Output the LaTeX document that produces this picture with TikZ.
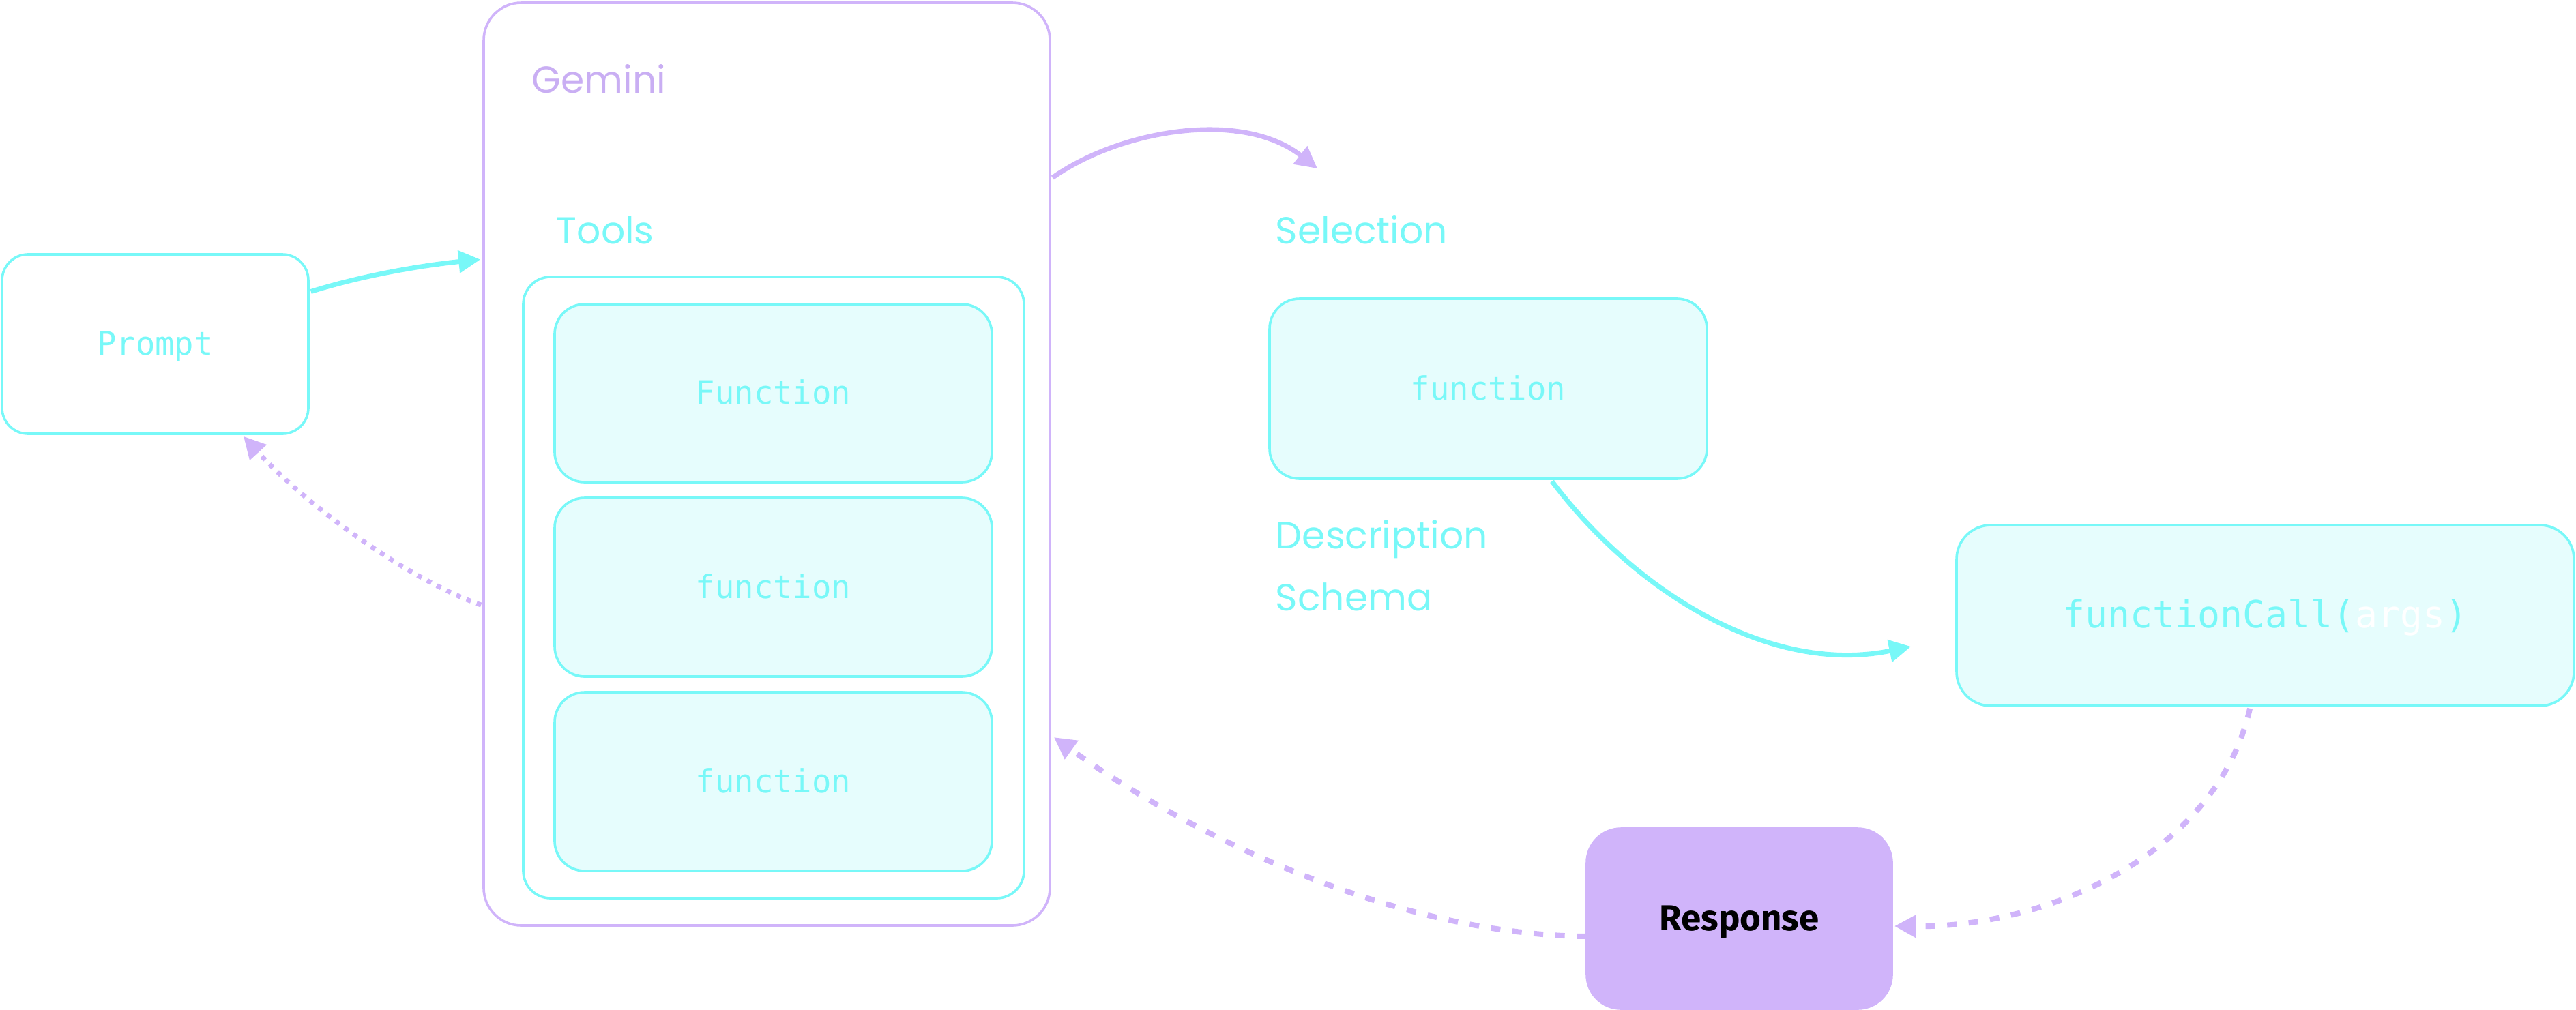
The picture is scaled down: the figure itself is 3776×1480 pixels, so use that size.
\documentclass[tikz,border=0pt]{standalone}
\usepackage{fontspec}
\usetikzlibrary{arrows.meta,calc}
\newfontfamily\popfont{Poppins}
\newfontfamily\monofont{DejaVu Sans Mono}
\newfontfamily\firafont{Fira Sans}
\definecolor{cy}{HTML}{78F8F8}
\definecolor{cyfill}{HTML}{E6FDFD}
\definecolor{pu}{HTML}{D0B4FA}
\definecolor{putext}{HTML}{C9AEF3}
\tikzset{
  cybox/.style={draw=cy, line width=0.9pt, fill=cyfill, rounded corners=11pt, inner sep=0pt,
    font=\monofont\fontsize{11.8}{12}\selectfont, text=cy, text height=8.2pt, text depth=0pt},
  plainbox/.style={draw=cy, line width=0.9pt, fill=white, rounded corners=10pt, inner sep=0pt},
  gembox/.style={draw=pu, line width=0.9pt, fill=white, rounded corners=13.75pt, inner sep=0pt},
  resbox/.style={draw=pu, line width=0.9pt, fill=pu, rounded corners=12.5pt, inner sep=0pt,
    font=\firafont\bfseries\fontsize{13.2}{14}\selectfont, text=black, text height=8.8pt, text depth=0pt},
  lbl/.style={anchor=base west, inner sep=0pt, font=\popfont\fontsize{13.8}{16}\selectfont},
  tipA/.style={-{Triangle[length=8pt,width=8pt]}},
  cyarrow/.style={draw=cy, line width=1.75pt, tipA},
  puarrow/.style={draw=pu, line width=1.75pt, tipA},
  pudashed/.style={draw=pu, line width=2pt, dash pattern=on 3.5pt off 4.4pt, tipA},
  pudotted/.style={draw=pu, line width=1.75pt, dash pattern=on 1.75pt off 2.25pt, tipA},
}
\begin{document}
\begin{tikzpicture}[x=0.25pt,y=-0.25pt]
\useasboundingbox (0,0) rectangle (3776,1480);

% Prompt
\node[cybox, fill=white, rounded corners=9.5pt, minimum width=112.25pt, minimum height=65.75pt, text height=8pt] (prompt) at (227.5,504.5) {Prompt};

% Gemini container
\node[gembox, minimum width=207.5pt, minimum height=338.25pt] (gemini) at (1124,680.5) {};
\node[lbl, text=putext] (gemlbl) at (779,136) {Gemini};
\node[lbl, text=cy] (toolslbl) at (815,357) {Tools};
\node[plainbox, minimum width=183.5pt, minimum height=227.75pt] (tools) at (1134,861.5) {};
\node[cybox, minimum width=160.25pt, minimum height=65.25pt] (f1) at (1133.5,576.5) {Function};
\node[cybox, minimum width=160.25pt, minimum height=65.5pt] (f2) at (1133.5,861) {function};
\node[cybox, minimum width=160.25pt, minimum height=65.5pt] (f3) at (1133.5,1146) {function};

% Selection
\node[lbl, text=cy] (sellbl) at (1869,357) {Selection};
\node[cybox, minimum width=160.25pt, minimum height=66pt] (selfunc) at (2181.5,570) {function};
\node[lbl, text=cy] (desclbl) at (1869,804) {Description};
\node[lbl, text=cy] (schemalbl) at (1869,895) {Schema};
\coordinate (selin) at (1931,247);

% functionCall
\node[cybox, rounded corners=12.5pt, minimum width=226.25pt, minimum height=66.25pt,
  font=\monofont\fontsize{13.7}{14}\selectfont, text height=8.8pt] (fcall) at (3320.5,902.5)
  {functionCall(\textcolor{white}{args})};

% Response
\node[resbox, minimum width=111.75pt, minimum height=66pt] (response) at (2549.5,1347) {Response};

% connectors
\draw[cyarrow] ($(prompt.east)+(2,-77)$) .. controls +(80,-25) and +(-80,8) .. ($(gemini.west)+(-3,-300)$);
\draw[puarrow] ($(gemini.east)+(2,-420)$) .. controls +(99,-70) and +(-111,-87) .. (selin);
\draw[cyarrow] ($(selfunc.south)+(93.5,2)$) .. controls +(125,166) and +(-203,42) .. ($(fcall.west)+(-65,45.5)$);
\draw[pudashed] ($(fcall.south)+(-22.5,2)$) .. controls +(-48,213) and +(225,2) .. ($(response.east)+(2,11)$);
\draw[pudashed] ($(response.west)+(1,26)$) .. controls +(-277,-3) and +(207,149) .. ($(gemini.east)+(4,400.5)$);
\draw[pudotted] ($(gemini.west)+(-2,206.5)$) .. controls +(-107,-37) and +(93,102) .. ($(prompt.south)+(129.5,2)$);
\end{tikzpicture}
\end{document}
